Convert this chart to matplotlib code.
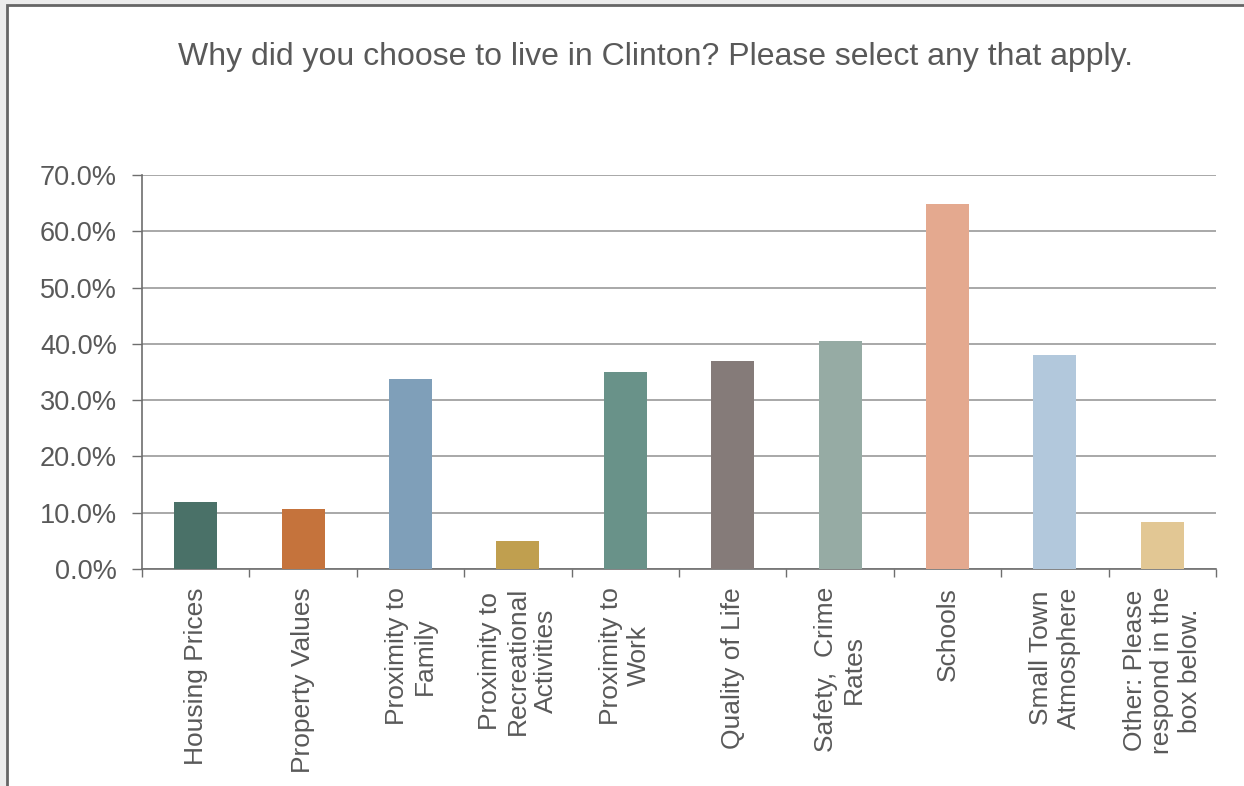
import matplotlib
matplotlib.use("Agg")
import matplotlib.pyplot as plt
from matplotlib.patches import Rectangle
from matplotlib.ticker import FuncFormatter

plt.rcParams['font.family'] = ['Liberation Sans', 'DejaVu Sans']

# survey answers, share of respondents (%)
categories = [
    "Housing Prices",
    "Property Values",
    "Proximity to\nFamily",
    "Proximity to\nRecreational\nActivities",
    "Proximity to\nWork",
    "Quality of Life",
    "Safety,  Crime\nRates",
    "Schools",
    "Small Town\nAtmosphere",
    "Other: Please\nrespond in the\nbox below.",
]
shares = [11.9, 10.7, 33.8, 5.0, 35.0, 36.9, 40.5, 64.8, 38.0, 8.3]
bar_colors = ["#4a7168", "#c5733c", "#7f9fb9", "#c09f4f", "#699289",
              "#857b79", "#96aba4", "#e4a98f", "#b2c8dc", "#e2c794"]
y_ticks = [0, 10, 20, 30, 40, 50, 60, 70]

text_col = "#595959"
axis_col = "#6e6e6e"

fig = plt.figure(figsize=(12.44, 7.86), dpi=100, facecolor="#ececec")

# white panel with a dark frame on the top and left
panel = Rectangle((7 / 1244, -0.02), 1.1, 1.02 - 5 / 786,
                  transform=fig.transFigure, facecolor="white",
                  edgecolor="#666666", linewidth=2, zorder=-5)
fig.patches.append(panel)

ax = fig.add_axes([142 / 1244, 1 - 569 / 786, (1216 - 142) / 1244, (569 - 175) / 786])
ax.set_facecolor("none")

x = range(len(categories))
ax.bar(x, shares, width=0.4, color=bar_colors, zorder=3)

ax.set_xlim(-0.5, len(categories) - 0.5)
ax.set_ylim(0, 70)
ax.set_yticks(y_ticks)
ax.yaxis.set_major_formatter(FuncFormatter(lambda v, _: f"{v:.1f}%"))
ax.grid(axis="y", color="#9a9a9a", linewidth=1.2, zorder=1)

# category labels centred under each bar, boundary ticks between them
ax.set_xticks([i + 0.5 for i in range(-1, len(categories))])
ax.set_xticklabels([])
ax.set_xticks(list(x), minor=True)
ax.set_xticklabels(categories, minor=True, rotation=90, ha="center", va="top",
                   multialignment="center", fontsize=19, color=text_col)
ax.tick_params(axis="x", which="major", length=6, width=1, color=axis_col, direction="out")
ax.tick_params(axis="x", which="minor", length=0, pad=13)
ax.tick_params(axis="y", length=7, width=1, color=axis_col, labelsize=19.5,
               labelcolor=text_col, pad=11)

for side in ("top", "right"):
    ax.spines[side].set_visible(False)
for side in ("left", "bottom"):
    ax.spines[side].set_color(axis_col)
    ax.spines[side].set_linewidth(1.2)

fig.text(655 / 1244, 1 - 57 / 786,
         "Why did you choose to live in Clinton? Please select any that apply.",
         ha="center", va="center", fontsize=23, color=text_col)

fig.savefig("out.png", dpi=100, facecolor=fig.get_facecolor())
